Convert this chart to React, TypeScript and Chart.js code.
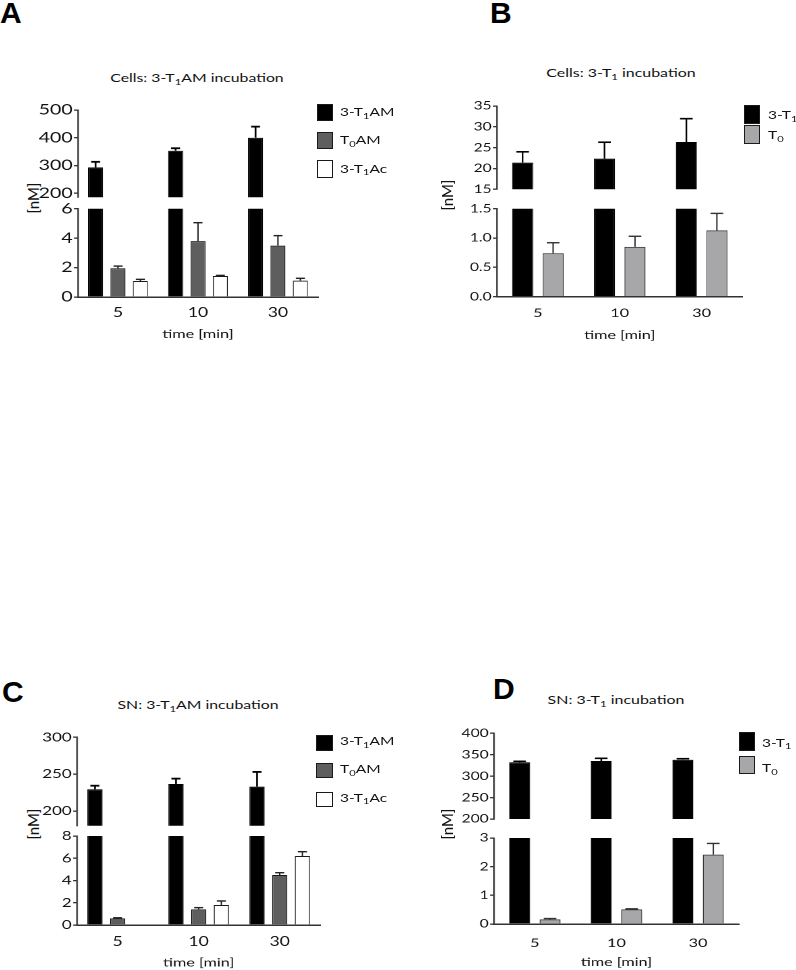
import React, { useEffect, useRef } from 'react';
import { Chart, registerables } from 'chart.js';
Chart.register(...registerables);

const SX = 1.35; // horizontal stretch of the original figure
const FONT = 'Lato, "Open Sans", sans-serif';
const WR = 52; // real px reserved left of each y axis inside the canvas

// ---------- data ----------
const timeLabels = ['5', '10', '30'];

// Panel A: Cells, 3-T1AM incubation
const aT1AM = [293, 353, 400];
const aT1AMErr = [313, 362, 440];
const aT0AM = [1.95, 3.8, 3.49];
const aT0AMErr = [2.1, 5.05, 4.17];
const aT1Ac = [1.09, 1.43, 1.11];
const aT1AcErr = [1.2, 1.47, 1.27];
const aUpperTicks = [200, 300, 400, 500];
const aLowerTicks = [0, 2, 4, 6];

// Panel B: Cells, 3-T1 incubation
const bT1 = [21.4, 22.35, 26.36];
const bT1Err = [24.0, 26.3, 31.96];
const bT0 = [0.74, 0.85, 1.13];
const bT0Err = [0.92, 1.03, 1.42];
const bUpperTicks = [15, 20, 25, 30, 35];
const bLowerTicks = [0, 0.5, 1.0, 1.5];

// Panel C: SN, 3-T1AM incubation
const cT1AM = [229.4, 236.6, 233];
const cT1AMErr = [234.3, 243.9, 253];
const cT0AM = [0.6, 1.41, 4.49];
const cT0AMErr = [0.65, 1.56, 4.7];
const cT1Ac = [null, 1.8, 6.2];
const cT1AcErr = [null, 2.16, 6.59];
const cUpperTicks = [200, 250, 300];
const cLowerTicks = [0, 2, 4, 6, 8];

// Panel D: SN, 3-T1 incubation
const dT1 = [332.3, 335.4, 338.4];
const dT1Err = [334.6, 341.6, 340.7];
const dT0 = [0.16, 0.51, 2.42];
const dT0Err = [0.19, 0.53, 2.81];
const dUpperTicks = [200, 250, 300, 350, 400];
const dLowerTicks = [0, 1, 2, 3];

// ---------- types ----------
type Series = {
  label: string;
  values: (number | null)[];
  errs: (number | null)[];
  fill: string;
  border: string;
  errColor: string;
  errWidth: number;
};
type Seg = { top: number; bottom: number; min: number; max: number; ticks: number[]; decimals: number; tickFont: number };
type Panel = {
  axisX: number;
  right: number;
  upper: Seg;
  lower: Seg;
  catFont: number;
  catLabelY: number;
  xTitleY: number;
  catPct: number;
  barPct: number;
  series: Series[];
};

const BLACK = '#000000';
const DARK = '#5e5e5e';
const LIGHT = '#a7a7a9';

const panelA: Panel = {
  axisX: 78, right: 318,
  upper: { top: 110, bottom: 197.3, min: 185, max: 500, ticks: aUpperTicks, decimals: 0, tickFont: 14.5 },
  lower: { top: 208.7, bottom: 297, min: 0, max: 6, ticks: aLowerTicks, decimals: 0, tickFont: 14.5 },
  catFont: 13, catLabelY: 313, xTitleY: 334, catPct: 0.84, barPct: 0.67,
  series: [
    { label: '3-T1AM', values: aT1AM, errs: aT1AMErr, fill: BLACK, border: BLACK, errColor: BLACK, errWidth: 1.8 },
    { label: 'T0AM', values: aT0AM, errs: aT0AMErr, fill: DARK, border: '#1a1a1a', errColor: '#222', errWidth: 1.4 },
    { label: '3-T1Ac', values: aT1Ac, errs: aT1AcErr, fill: '#ffffff', border: '#1a1a1a', errColor: '#222', errWidth: 1.4 },
  ],
};
const panelB: Panel = {
  axisX: 497, right: 743,
  upper: { top: 106, bottom: 189.3, min: 15, max: 35, ticks: bUpperTicks, decimals: 0, tickFont: 11.5 },
  lower: { top: 208.7, bottom: 296.7, min: 0, max: 1.5, ticks: bLowerTicks, decimals: 1, tickFont: 11.5 },
  catFont: 12, catLabelY: 313.3, xTitleY: 335, catPct: 0.745, barPct: 0.69,
  series: [
    { label: '3-T1', values: bT1, errs: bT1Err, fill: BLACK, border: BLACK, errColor: BLACK, errWidth: 1.6 },
    { label: 'T0', values: bT0, errs: bT0Err, fill: LIGHT, border: '#333', errColor: '#333', errWidth: 1.4 },
  ],
};
const panelC: Panel = {
  axisX: 77, right: 320,
  upper: { top: 737.3, bottom: 825.7, min: 180, max: 300, ticks: cUpperTicks, decimals: 0, tickFont: 12.5 },
  lower: { top: 836, bottom: 925, min: 0, max: 8, ticks: cLowerTicks, decimals: 0, tickFont: 12.5 },
  catFont: 13, catLabelY: 941.7, xTitleY: 962.7, catPct: 0.84, barPct: 0.67,
  series: [
    { label: '3-T1AM', values: cT1AM, errs: cT1AMErr, fill: BLACK, border: BLACK, errColor: BLACK, errWidth: 1.8 },
    { label: 'T0AM', values: cT0AM, errs: cT0AMErr, fill: DARK, border: '#1a1a1a', errColor: '#222', errWidth: 1.4 },
    { label: '3-T1Ac', values: cT1Ac, errs: cT1AcErr, fill: '#ffffff', border: '#1a1a1a', errColor: '#222', errWidth: 1.4 },
  ],
};
const panelD: Panel = {
  axisX: 494, right: 739,
  upper: { top: 733.3, bottom: 819, min: 200, max: 400, ticks: dUpperTicks, decimals: 0, tickFont: 11.5 },
  lower: { top: 838, bottom: 924, min: 0, max: 3, ticks: dLowerTicks, decimals: 0, tickFont: 11.5 },
  catFont: 12, catLabelY: 943, xTitleY: 962, catPct: 0.745, barPct: 0.69,
  series: [
    { label: '3-T1', values: dT1, errs: dT1Err, fill: BLACK, border: BLACK, errColor: BLACK, errWidth: 1.6 },
    { label: 'T0', values: dT0, errs: dT0Err, fill: LIGHT, border: '#333', errColor: '#333', errWidth: 1.4 },
  ],
};

// ---------- error bars (upper whisker only) ----------
const errorBarPlugin = {
  id: 'errorBars',
  afterDatasetsDraw(chart: any) {
    const { ctx, chartArea } = chart;
    ctx.save();
    ctx.beginPath();
    ctx.rect(chartArea.left, chartArea.top, chartArea.right - chartArea.left, chartArea.bottom - chartArea.top);
    ctx.clip();
    chart.data.datasets.forEach((ds: any, i: number) => {
      const meta = chart.getDatasetMeta(i);
      if (!ds.errTop) return;
      const yScale = chart.scales[meta.yAxisID];
      meta.data.forEach((bar: any, j: number) => {
        const v = ds.data[j];
        const e = ds.errTop[j];
        if (v == null || e == null) return;
        const yE = yScale.getPixelForValue(e);
        const yV = yScale.getPixelForValue(v);
        const lw = ds.errWidth;
        const half = bar.width * 0.3;
        const vw = lw / SX;
        ctx.fillStyle = ds.errColor;
        ctx.fillRect(bar.x - vw / 2, yE, vw, yV - yE);
        ctx.fillRect(bar.x - half, yE - lw / 2, half * 2, lw);
      });
    });
    ctx.restore();
  },
};

function Segment({ panel, seg, isLower }: { panel: Panel; seg: Seg; isLower: boolean }) {
  const ref = useRef<HTMLCanvasElement>(null);
  const canvasLeft = panel.axisX - WR;
  const yW = WR / SX;
  const plotW = (panel.right - panel.axisX) / SX;
  const lw = Math.ceil(yW + plotW + 6);
  const padR = lw - yW - plotW;
  const canvasTop = Math.floor(seg.top - 12);
  const padT = seg.top - canvasTop;
  const xH = isLower ? panel.xTitleY + 7.2 - seg.bottom : 0;
  const ch = Math.ceil(seg.bottom - canvasTop + (isLower ? xH + 2 : 12));
  const padB = ch - (seg.bottom - canvasTop) - xH;

  useEffect(() => {
    const canvas = ref.current as HTMLCanvasElement;
    const datasets = panel.series.map((s, k) => ({
      label: s.label,
      data: !isLower && k > 0 ? s.values.map(() => null) : s.values,
      errTop: s.errs,
      errColor: s.errColor,
      errWidth: s.errWidth,
      backgroundColor: s.fill,
      borderColor: s.border,
      borderWidth: { top: 1, bottom: 1, left: 1 / SX, right: 1 / SX },
      clip: 0,
      categoryPercentage: panel.catPct,
      barPercentage: panel.barPct,
    }));
    const chart = new Chart(canvas, {
      type: 'bar',
      data: { labels: timeLabels, datasets: datasets as any },
      plugins: [errorBarPlugin as any],
      options: {
        animation: false,
        responsive: false,
        devicePixelRatio: 2,
        layout: { padding: { top: padT, bottom: padB, left: 0, right: padR } },
        plugins: { legend: { display: false }, tooltip: { enabled: false } },
        scales: {
          x: {
            display: isLower,
            grid: { display: false, drawTicks: false },
            border: { display: true, color: '#333', width: 1.5 },
            ticks: {
              font: { family: FONT, size: panel.catFont },
              color: '#111',
              padding: panel.catLabelY - seg.bottom - (panel.catFont * 1.2) / 2,
            },
            title: {
              display: true,
              text: 'time [min]',
              font: { family: FONT, size: 12 },
              color: '#111',
              padding: 0,
            },
            afterFit: (s: any) => {
              s.height = xH;
              s.paddingLeft = 0;
              s.paddingRight = 0;
            },
          },
          y: {
            min: seg.min,
            max: seg.max,
            afterBuildTicks: (s: any) => {
              s.ticks = seg.ticks.map((v) => ({ value: v }));
            },
            ticks: {
              font: { family: FONT, size: seg.tickFont },
              color: '#111',
              padding: 1,
              callback: (v: any) => Number(v).toFixed(seg.decimals),
            },
            grid: { drawOnChartArea: false, drawTicks: true, tickLength: 4 / SX, color: '#333', lineWidth: 1.3 },
            border: { display: true, color: '#333', width: 1.5 / SX },
            afterFit: (s: any) => {
              s.width = yW;
              s.paddingTop = 0;
              s.paddingBottom = 0;
            },
          },
        },
      } as any,
    });
    return () => chart.destroy();
  }, []);

  return (
    <canvas
      ref={ref}
      width={lw}
      height={ch}
      style={{ position: 'absolute', left: canvasLeft, top: canvasTop, width: lw * SX, height: ch, display: 'block' }}
    />
  );
}

// ---------- text helpers ----------
const Sub = ({ children }: { children: React.ReactNode }) => (
  <span style={{ fontSize: '0.72em', position: 'relative', top: '0.32em' }}>{children}</span>
);

function Txt({ x, y, size, children, align = 'center' }: { x: number; y: number; size: number; children: React.ReactNode; align?: 'center' | 'left' }) {
  return (
    <div
      style={{
        position: 'absolute',
        left: x,
        top: y,
        transform: align === 'center' ? `translate(-50%, -50%) scaleX(${SX})` : `translateY(-50%) scaleX(${SX})`,
        transformOrigin: align === 'center' ? 'center center' : 'left center',
        whiteSpace: 'nowrap',
        fontFamily: FONT,
        fontSize: size,
        lineHeight: 1.2,
        color: '#111',
      }}
    >
      {children}
    </div>
  );
}

function YTitle({ x, y }: { x: number; y: number }) {
  return (
    <div
      style={{
        position: 'absolute',
        left: x,
        top: y,
        transform: 'translate(-50%, -50%) rotate(-90deg)',
        whiteSpace: 'nowrap',
        fontFamily: FONT,
        fontSize: 15,
        lineHeight: 1.2,
        color: '#111',
      }}
    >
      [nM]
    </div>
  );
}

function Box({ x, y, w, h, fill }: { x: number; y: number; w: number; h: number; fill: string }) {
  return (
    <div
      style={{
        position: 'absolute',
        left: x,
        top: y,
        width: w,
        height: h,
        boxSizing: 'border-box',
        background: fill,
        border: '1px solid #1a1a1a',
      }}
    />
  );
}

function Letter({ x, y, ch }: { x: number; y: number; ch: string }) {
  return (
    <div
      style={{
        position: 'absolute',
        left: x,
        top: y,
        fontFamily: '"Liberation Sans", Arial, sans-serif',
        fontWeight: 700,
        fontSize: 30,
        lineHeight: '30px',
        color: '#000',
      }}
    >
      {ch}
    </div>
  );
}

const lbl3T1AM = (
  <>
    3-T<Sub>1</Sub>AM
  </>
);
const lblT0AM = (
  <>
    T<Sub>0</Sub>AM
  </>
);
const lbl3T1Ac = (
  <>
    3-T<Sub>1</Sub>Ac
  </>
);
const lbl3T1 = (
  <>
    3-T<Sub>1</Sub>
  </>
);
const lblT0 = (
  <>
    T<Sub>0</Sub>
  </>
);

export default function App() {
  return (
    <div
      style={{
        position: 'absolute',
        left: 0,
        top: 0,
        width: 796,
        height: 970,
        overflow: 'hidden',
        background: '#fff',
      }}
    >
      {/* Panel letters */}
      <Letter x={0} y={-2} ch="A" />
      <Letter x={490} y={-2} ch="B" />
      <Letter x={2} y={677} ch="C" />
      <Letter x={493} y={674} ch="D" />

      {/* Panel A */}
      <Txt x={197} y={77} size={11.7}>
        Cells: 3-T<Sub>1</Sub>AM incubation
      </Txt>
      <YTitle x={33} y={198} />
      <Segment panel={panelA} seg={panelA.upper} isLower={false} />
      <Segment panel={panelA} seg={panelA.lower} isLower={true} />
      <Box x={317} y={103.5} w={16} h={17.5} fill={BLACK} />
      <Box x={317} y={131.5} w={16} h={17} fill={DARK} />
      <Box x={317} y={160} w={16} h={17.5} fill="#fff" />
      <Txt x={340} y={112} size={11.5} align="left">{lbl3T1AM}</Txt>
      <Txt x={340} y={140} size={11.5} align="left">{lblT0AM}</Txt>
      <Txt x={340} y={168.5} size={11.5} align="left">{lbl3T1Ac}</Txt>

      {/* Panel B */}
      <Txt x={620.5} y={73} size={11.8}>
        Cells: 3-T<Sub>1</Sub> incubation
      </Txt>
      <YTitle x={446.7} y={195} />
      <Segment panel={panelB} seg={panelB.upper} isLower={false} />
      <Segment panel={panelB} seg={panelB.lower} isLower={true} />
      <Box x={744} y={104.5} w={16} h={19.5} fill={BLACK} />
      <Box x={744} y={124.5} w={16} h={19} fill={LIGHT} />
      <Txt x={768} y={115} size={11.5} align="left">{lbl3T1}</Txt>
      <Txt x={768} y={135} size={11.5} align="left">{lblT0}</Txt>

      {/* Panel C */}
      <Txt x={198} y={704} size={11.7}>
        SN: 3-T<Sub>1</Sub>AM incubation
      </Txt>
      <YTitle x={32.5} y={824} />
      <Segment panel={panelC} seg={panelC.upper} isLower={false} />
      <Segment panel={panelC} seg={panelC.lower} isLower={true} />
      <Box x={316} y={735} w={17} h={15.5} fill={BLACK} />
      <Box x={316} y={762.5} w={17} h={15} fill={DARK} />
      <Box x={316} y={791.5} w={17} h={15.5} fill="#fff" />
      <Txt x={340} y={741} size={11.5} align="left">{lbl3T1AM}</Txt>
      <Txt x={340} y={769} size={11.5} align="left">{lblT0AM}</Txt>
      <Txt x={340} y={797.5} size={11.5} align="left">{lbl3T1Ac}</Txt>

      {/* Panel D */}
      <Txt x={615.5} y={700} size={11.8}>
        SN: 3-T<Sub>1</Sub> incubation
      </Txt>
      <YTitle x={446.7} y={823.5} />
      <Segment panel={panelD} seg={panelD.upper} isLower={false} />
      <Segment panel={panelD} seg={panelD.lower} isLower={true} />
      <Box x={739} y={731.7} w={15.5} h={19.3} fill={BLACK} />
      <Box x={739} y={756} w={15.5} h={18.3} fill={LIGHT} />
      <Txt x={762} y={742.5} size={11.5} align="left">{lbl3T1}</Txt>
      <Txt x={762} y={768} size={11.5} align="left">{lblT0}</Txt>
    </div>
  );
}
